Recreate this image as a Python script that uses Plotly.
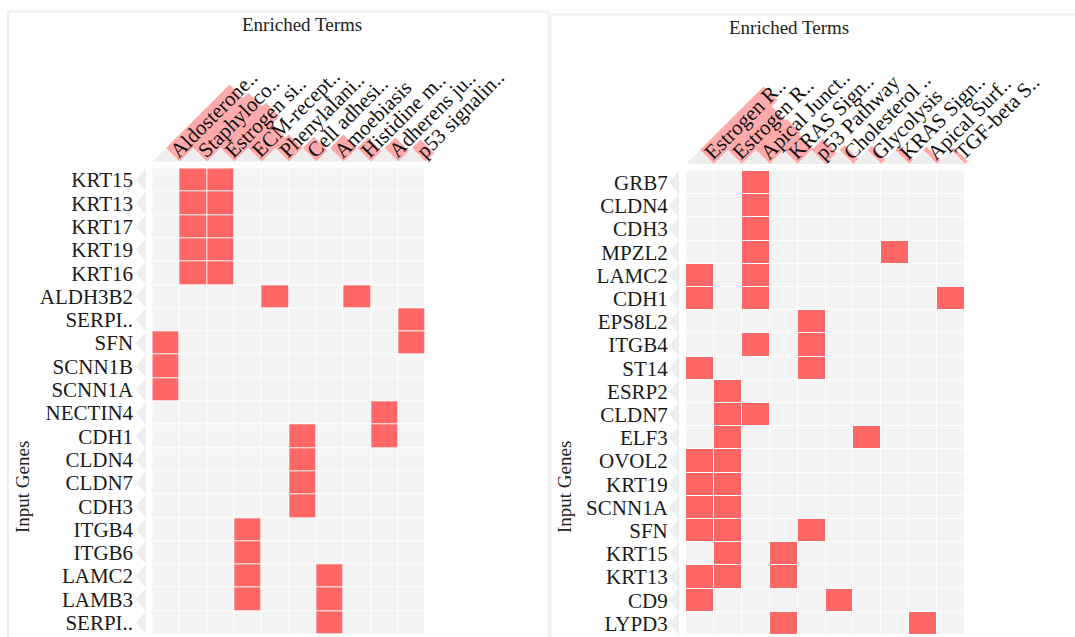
import math
import plotly.graph_objects as go

W, H = 1075, 637

# ---- left clustergram: KEGG terms ----
left_terms = ["Aldosterone..", "Staphyloco..", "Estrogen si..", "ECM-recept..",
              "Phenylalani..", "Cell adhesi..", "Amoebiasis", "Histidine m..",
              "Adherens ju..", "p53 signalin.."]
left_scores = [9.0, 7.8, 6.4, 3.4, 1.9, 1.6, 1.9, 1.5, 1.5, 1.2]
left_genes = ["KRT15", "KRT13", "KRT17", "KRT19", "KRT16", "ALDH3B2", "SERPI..",
              "SFN", "SCNN1B", "SCNN1A", "NECTIN4", "CDH1", "CLDN4", "CLDN7",
              "CDH3", "ITGB4", "ITGB6", "LAMC2", "LAMB3", "SERPI.."]
left_hits = [[1, 2], [1, 2], [1, 2], [1, 2], [1, 2], [4, 7], [9],
             [0, 9], [0], [0], [8], [5, 8], [5], [5],
             [5], [3], [3], [3, 6], [3, 6], [6]]

# ---- right clustergram: MSigDB hallmark terms ----
right_terms = ["Estrogen R..", "Estrogen R..", "Apical Junct..", "KRAS Sign..",
               "p53 Pathway", "Cholesterol ..", "Glycolysis", "KRAS Sign..",
               "Apical Surf..", "TGF-beta S.."]
right_scores = [9.0, 6.2, 4.4, 2.2, 1.6, 0.7, 0.6, 0.6, 0.5, 0.4]
right_genes = ["GRB7", "CLDN4", "CDH3", "MPZL2", "LAMC2", "CDH1", "EPS8L2",
               "ITGB4", "ST14", "ESRP2", "CLDN7", "ELF3", "OVOL2", "KRT19",
               "SCNN1A", "SFN", "KRT15", "KRT13", "CD9", "LYPD3"]
right_hits = [[2], [2], [2], [2, 7], [0, 2], [0, 2, 9], [4],
              [2, 4], [0, 4], [1], [1, 2], [1, 6], [0, 1], [0, 1],
              [0, 1], [0, 1, 4], [1, 3], [0, 1, 3], [0, 5], [3, 8]]

FONT = "Liberation Serif, Times New Roman, serif"
RED = "#ff6666"
CELL = "#f4f4f4"
PINK = "#ffabab"
TRI = "#eeeeee"
BORDER = "#efefef"
BAR_PX_PER_UNIT = 10.0   # bar length along the diagonal, px per score unit
LABEL_SIZE = 21
TITLE_SIZE = 19

# Times advance widths (1/1000 em) for label length estimates
CHAR_W = {" ": 250, ".": 250, "-": 333}
CHAR_W.update({d: 500 for d in "0123456789"})
CHAR_W.update(dict(zip("ABCDEFGHIJKLMNOPQRSTUVWXYZ",
                       [722, 667, 667, 722, 611, 556, 722, 722, 333, 389, 722, 611, 889,
                        722, 722, 556, 722, 667, 556, 611, 722, 722, 944, 722, 722, 611])))
CHAR_W.update(dict(zip("abcdefghijklmnopqrstuvwxyz",
                       [444, 500, 444, 500, 444, 333, 500, 500, 278, 278, 500, 278, 778,
                        500, 500, 500, 500, 333, 389, 278, 500, 500, 722, 500, 500, 444])))


def text_px(s, size):
    return sum(CHAR_W.get(ch, 500) for ch in s) * size / 1000.0


def px_x(x):
    return x / W


def px_y(y):
    return 1 - y / H


fig = go.Figure()
layout_axes = {}
annotations = []
shapes = []


def add_panel(n, terms, scores, genes, hits, geo):
    ax_h, ax_c, ax_r = 3 * n + 1, 3 * n + 2, 3 * n + 3
    nm = lambda k: "" if k == 1 else str(k)
    ncol, nrow = len(terms), len(genes)
    cw, rh = geo["col_w"], geo["row_h"]
    gl, gt = geo["grid_left"], geo["grid_top"]
    gr, gb = gl + ncol * cw, gt + nrow * rh

    # membership matrix
    z = [[1 if c in hits[r] else 0 for c in range(ncol)] for r in range(nrow)]
    fig.add_trace(go.Heatmap(
        z=z, x=list(range(ncol)), y=list(range(nrow)),
        colorscale=[[0, CELL], [1, RED]], zmin=0, zmax=1, showscale=False,
        xgap=1, ygap=1, hoverinfo="skip",
        xaxis="x" + nm(ax_h), yaxis="y" + nm(ax_h)))
    layout_axes["xaxis" + nm(ax_h)] = dict(
        domain=[px_x(gl), px_x(gr)], range=[-0.5, ncol - 0.5], anchor="y" + nm(ax_h),
        showgrid=False, zeroline=False, showticklabels=False, ticks="", fixedrange=True)
    layout_axes["yaxis" + nm(ax_h)] = dict(
        domain=[px_y(gb), px_y(gt)], range=[nrow - 0.5, -0.5], anchor="x" + nm(ax_h),
        tickmode="array", tickvals=list(range(nrow)), ticktext=genes,
        ticks="outside", ticklen=geo["ticklen"], tickcolor="rgba(0,0,0,0)",
        tickfont=dict(family=FONT, size=LABEL_SIZE, color="#1a1a1a"),
        showgrid=False, zeroline=False, fixedrange=True)

    # column header: gray triangles + pink score bars, in column units
    hb = geo["header_base"]
    span_px = 13 * cw
    hh = 120.0
    tx, ty, bx, by = [], [], [], []
    for i, sc in enumerate(scores):
        tx += [i - 0.5, i + 0.5, i, i - 0.5, None]
        ty += [0, 0, 0.5, 0, None]
        s = sc * BAR_PX_PER_UNIT / math.sqrt(2) / cw
        bx += [i, i + 0.5, i + 0.5 + s, i + s, i, None]
        by += [0.5, 0, s, 0.5 + s, 0.5, None]
    for xs, ys, col in ((bx, by, PINK), (tx, ty, TRI)):
        fig.add_trace(go.Scatter(
            x=xs, y=ys, mode="lines", fill="toself", fillcolor=col,
            line=dict(width=0, color=col), hoverinfo="skip", showlegend=False,
            xaxis="x" + nm(ax_c), yaxis="y" + nm(ax_c)))
    layout_axes["xaxis" + nm(ax_c)] = dict(
        domain=[px_x(gl), px_x(gl + span_px)], range=[-0.5, -0.5 + span_px / cw],
        anchor="y" + nm(ax_c), visible=False, fixedrange=True)
    layout_axes["yaxis" + nm(ax_c)] = dict(
        domain=[px_y(hb), px_y(hb - hh)], range=[0, hh / cw],
        anchor="x" + nm(ax_c), visible=False, fixedrange=True)
    for i, t in enumerate(terms):
        ln = (text_px(t, LABEL_SIZE) + 3) / cw
        d = ln / 2 / math.sqrt(2)
        annotations.append(dict(
            x=i + 0.25 + d, y=0.25 + d, xref="x" + nm(ax_c), yref="y" + nm(ax_c),
            text=t, showarrow=False, textangle=-45, xanchor="center", yanchor="middle",
            font=dict(family=FONT, size=LABEL_SIZE, color="#111")))

    # row chevrons beside the gene labels
    cx, cy = [], []
    for r in range(nrow):
        cx += [1, 0, 1, 1, None]
        cy += [r - 0.5, r, r + 0.5, r - 0.5, None]
    fig.add_trace(go.Scatter(
        x=cx, y=cy, mode="lines", fill="toself", fillcolor=TRI,
        line=dict(width=0, color=TRI), hoverinfo="skip", showlegend=False,
        xaxis="x" + nm(ax_r), yaxis="y" + nm(ax_r)))
    layout_axes["xaxis" + nm(ax_r)] = dict(
        domain=[px_x(geo["chev"][0]), px_x(geo["chev"][1])], range=[0, 1],
        anchor="y" + nm(ax_r), visible=False, fixedrange=True)
    layout_axes["yaxis" + nm(ax_r)] = dict(
        domain=[px_y(gb), px_y(gt)], range=[nrow - 0.5, -0.5],
        anchor="x" + nm(ax_r), visible=False, fixedrange=True)

    # titles
    annotations.append(dict(
        x=px_x(geo["title"][0]), y=px_y(geo["title"][1]), xref="paper", yref="paper",
        text="Enriched Terms", showarrow=False, xanchor="center", yanchor="middle",
        font=dict(family=FONT, size=TITLE_SIZE, color="#222")))
    annotations.append(dict(
        x=px_x(geo["ylab"][0]), y=px_y(geo["ylab"][1]), xref="paper", yref="paper",
        text="Input Genes", showarrow=False, textangle=-90, xanchor="center",
        yanchor="middle", font=dict(family=FONT, size=TITLE_SIZE, color="#222")))

    # panel frame
    x0, y0, x1 = geo["frame"]
    shapes.append(dict(type="path", xref="paper", yref="paper",
                       path=f"M{px_x(x0)},{px_y(H + 5)} L{px_x(x0)},{px_y(y0)} "
                            f"L{px_x(x1)},{px_y(y0)} L{px_x(x1)},{px_y(H + 5)}",
                       line=dict(color=BORDER, width=2)))


add_panel(0, left_terms, left_scores, left_genes, left_hits, dict(
    grid_left=152.3, grid_top=168.3, col_w=27.34, row_h=23.3, header_base=161.7,
    chev=(136, 146), ticklen=14, title=(302, 24), ylab=(22, 487),
    frame=(8, 11.5, 548.5)))
add_panel(1, right_terms, right_scores, right_genes, right_hits, dict(
    grid_left=686, grid_top=171, col_w=27.9, row_h=23.2, header_base=164,
    chev=(669, 679), ticklen=13, title=(789, 28), ylab=(564, 487),
    frame=(550.5, 14.5, 1085)))

fig.update_layout(
    width=W, height=H, autosize=False,
    margin=dict(l=0, r=0, t=0, b=0, pad=0),
    paper_bgcolor="white", plot_bgcolor="rgba(0,0,0,0)",
    showlegend=False, annotations=annotations, shapes=shapes,
    **layout_axes)

fig.write_html("out.html")
